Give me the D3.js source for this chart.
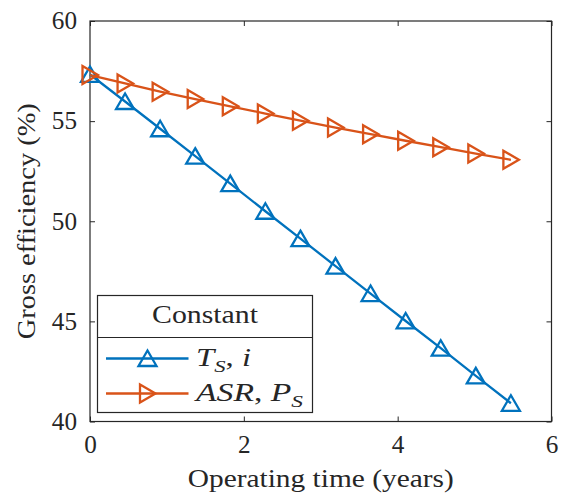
<!DOCTYPE html>
<html>
<head>
<meta charset="utf-8">
<script src="https://cdn.jsdelivr.net/npm/d3@7"></script>
<style>
  html, body { margin: 0; padding: 0; background: #fff; }
  svg text { font-family: "Liberation Serif", "Times New Roman", serif; }
</style>
</head>
<body>
<svg id="chart" width="570" height="500"></svg>
<script>
// Operating time (years) at which efficiency was evaluated
const years = [0, 0.456, 0.912, 1.368, 1.824, 2.28, 2.736, 3.192, 3.648, 4.104, 4.56, 5.016, 5.472];
// Gross efficiency (%) holding T_S and i constant
const effTsI = [57.33, 55.98, 54.62, 53.25, 51.88, 50.5, 49.13, 47.76, 46.39, 45.02, 43.66, 42.28, 40.91];
// Gross efficiency (%) holding ASR and P_S constant
const effAsrPs = [57.3, 56.88, 56.47, 56.1, 55.74, 55.38, 55.02, 54.68, 54.35, 54.02, 53.7, 53.38, 53.07];
const xTicks = [0, 2, 4, 6];
const yTicks = [40, 45, 50, 55, 60];

const FS = 24.5;
const blue = "#0072BD", orange = "#D95319", axisCol = "#262626";
const svg = d3.select("#chart");
const m = { left: 90, right: 551.5, top: 21, bottom: 421.5 };

const x = d3.scaleLinear().domain([0, 6]).range([m.left, m.right]);
const y = d3.scaleLinear().domain([40, 60]).range([m.bottom, m.top]);

const tickLen = 5;
const styleAxis = g => {
  g.select(".domain").remove();
  g.attr("font-family", null).attr("font-size", FS);
  g.selectAll("line").attr("stroke", axisCol);
  g.selectAll("text").attr("fill", axisCol)
    .attr("textLength", d => String(d).length * 12.6).attr("lengthAdjust", "spacingAndGlyphs");
};
// bottom and top axes
svg.append("g").attr("transform", `translate(0,${m.bottom})`)
  .call(d3.axisBottom(x).tickValues(xTicks).tickFormat(d3.format("d"))
    .tickSize(-tickLen).tickPadding(14).tickSizeOuter(0))
  .call(styleAxis);
svg.append("g").attr("transform", `translate(0,${m.top})`)
  .call(d3.axisTop(x).tickValues(xTicks).tickSize(-tickLen).tickFormat("").tickSizeOuter(0))
  .call(styleAxis);
// left and right axes
svg.append("g").attr("transform", `translate(${m.left},0)`)
  .call(d3.axisLeft(y).tickValues(yTicks).tickFormat(d3.format("d"))
    .tickSize(-tickLen).tickPadding(13).tickSizeOuter(0))
  .call(styleAxis);
svg.append("g").attr("transform", `translate(${m.right},0)`)
  .call(d3.axisRight(y).tickValues(yTicks).tickSize(-tickLen).tickFormat("").tickSizeOuter(0))
  .call(styleAxis);

// plot box
svg.append("rect").attr("x", m.left).attr("y", m.top)
  .attr("width", m.right - m.left).attr("height", m.bottom - m.top)
  .attr("fill", "none").attr("stroke", axisCol).attr("stroke-width", 1.2);

// axis titles
svg.append("text").attr("x", (m.left + m.right) / 2).attr("y", 487)
  .attr("text-anchor", "middle").attr("font-size", FS).attr("fill", axisCol)
  .attr("textLength", 266).attr("lengthAdjust", "spacingAndGlyphs")
  .text("Operating time (years)");
svg.append("text").attr("transform", `translate(35,${(m.top + m.bottom) / 2}) rotate(-90)`)
  .attr("x", 0).attr("y", 0)
  .attr("text-anchor", "middle").attr("font-size", FS).attr("fill", axisCol)
  .attr("textLength", 236).attr("lengthAdjust", "spacingAndGlyphs")
  .text("Gross efficiency (%)");

// marker shapes
const triUp = "M0,-8L9,7.5L-9,7.5Z";
const triRight = "M8,0L-7.5,9L-7.5,-9Z";

const line = d3.line().x(d => x(d[0])).y(d => y(d[1]));
const series = [
  { vals: effTsI, color: blue, shape: triUp },
  { vals: effAsrPs, color: orange, shape: triRight }
];
series.forEach(s => {
  const pts = years.map((t, i) => [t, s.vals[i]]);
  const g = svg.append("g");
  g.append("path").datum(pts).attr("d", line)
    .attr("fill", "none").attr("stroke", s.color).attr("stroke-width", 2.3);
  g.selectAll("path.mk").data(pts).join("path").attr("class", "mk")
    .attr("transform", d => `translate(${x(d[0])},${y(d[1])})`)
    .attr("d", s.shape).attr("fill", "none").attr("stroke", s.color).attr("stroke-width", 2.3);
});

// legend
const lg = svg.append("g").attr("fill", axisCol);
const L = { x0: 97.5, y0: 295.5, x1: 312.5, y1: 412.5, div: 337.5 };
lg.append("rect").attr("x", L.x0).attr("y", L.y0).attr("width", L.x1 - L.x0).attr("height", L.y1 - L.y0)
  .attr("fill", "#fff").attr("stroke", axisCol).attr("stroke-width", 1.2);
lg.append("line").attr("x1", L.x0).attr("x2", L.x1).attr("y1", L.div).attr("y2", L.div)
  .attr("stroke", axisCol).attr("stroke-width", 1.2);
lg.append("text").attr("x", (L.x0 + L.x1) / 2).attr("y", 323).attr("text-anchor", "middle")
  .attr("font-size", FS).attr("textLength", 106).attr("lengthAdjust", "spacingAndGlyphs").text("Constant");

const entries = [
  { y: 358.5, color: blue, shape: triUp, width: 55,
    parts: [["T", "italic", 0], ["S", "italic", 1], [",", "normal", 0], [" i", "italic", 0]] },
  { y: 393.5, color: orange, shape: triRight, width: 107,
    parts: [["ASR", "italic", 0], [",", "normal", 0], [" P", "italic", 0], ["S", "italic", 1]] }
];
entries.forEach(e => {
  lg.append("line").attr("x1", 106).attr("x2", 188.5).attr("y1", e.y).attr("y2", e.y)
    .attr("stroke", e.color).attr("stroke-width", 2.3);
  lg.append("path").attr("transform", `translate(147.5,${e.y})`).attr("d", e.shape)
    .attr("fill", "none").attr("stroke", e.color).attr("stroke-width", 2.3);
  const t = lg.append("text").attr("x", 196).attr("y", e.y + 7).attr("font-size", FS)
    .attr("textLength", e.width).attr("lengthAdjust", "spacingAndGlyphs");
  let prevSub = false;
  e.parts.forEach(p => {
    const ts = t.append("tspan").attr("font-style", p[1]).text(p[0]);
    if (p[2]) ts.attr("font-size", 17).attr("dy", 6);
    else if (prevSub) ts.attr("dy", -6);
    prevSub = !!p[2];
  });
});
</script>
</body>
</html>
